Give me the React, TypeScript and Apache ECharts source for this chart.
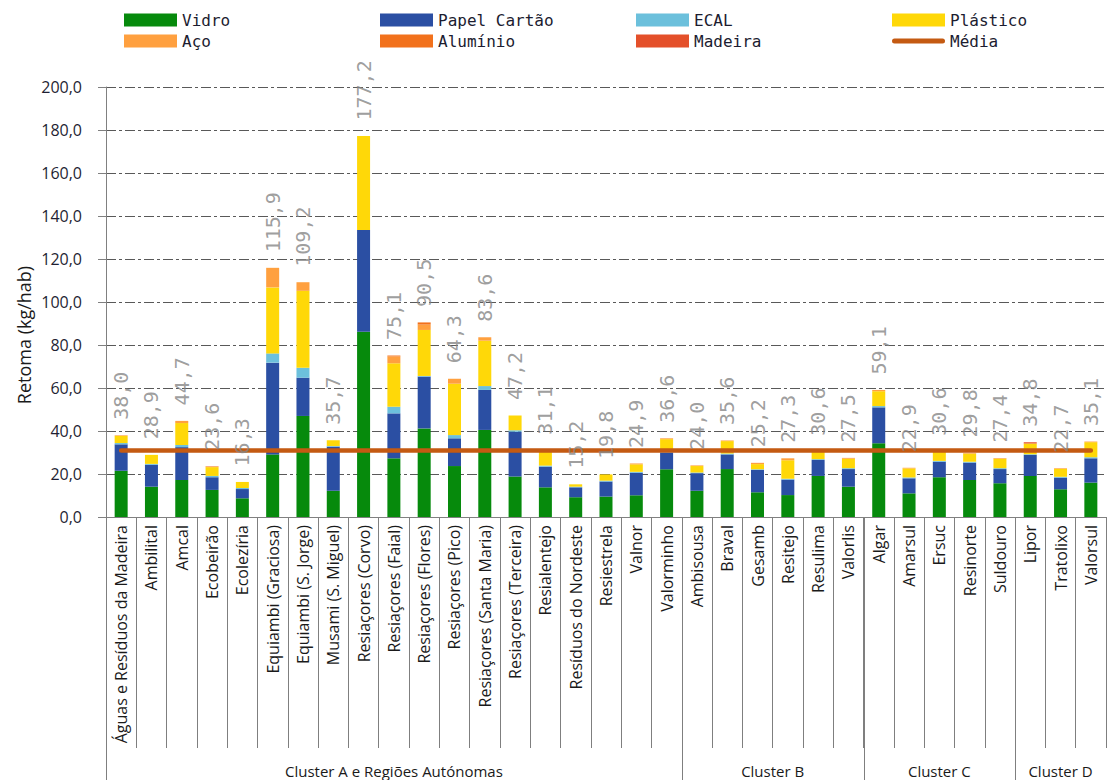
import React, { useEffect, useRef } from "react";
import * as echarts from "echarts";

const categories = [
  "Águas e Resíduos da Madeira", "Ambilital", "Amcal", "Ecobeirão", "Ecolezíria",
  "Equiambi (Graciosa)", "Equiambi (S. Jorge)", "Musami (S. Miguel)", "Resiaçores (Corvo)",
  "Resiaçores (Faial)", "Resiaçores (Flores)", "Resiaçores (Pico)", "Resiaçores (Santa Maria)",
  "Resiaçores (Terceira)", "Resialentejo", "Resíduos do Nordeste", "Resiestrela", "Valnor",
  "Valorminho", "Ambisousa", "Braval", "Gesamb", "Resitejo", "Resulima", "Valorlis",
  "Algar", "Amarsul", "Ersuc", "Resinorte", "Suldouro", "Lipor", "Tratolixo", "Valorsul",
];

const clusterNames = ["Cluster A e Regiões Autónomas", "Cluster B", "Cluster C", "Cluster D"];
const clusterSizes = [19, 6, 5, 3];

const vidro = [21.5, 14.1, 17.2, 12.6, 8.7, 29.1, 47.0, 12.2, 86.2, 27.3, 41.2, 23.7, 40.5, 18.8, 13.8, 9.2, 9.5, 10.1, 22.2, 12.2, 22.3, 11.5, 10.2, 19.1, 14.1, 34.3, 11.0, 18.5, 17.2, 15.7, 19.1, 12.9, 16.0];
const papelCartao = [12.3, 10.2, 15.3, 5.9, 4.3, 42.7, 17.8, 20.5, 47.3, 20.9, 24.1, 12.9, 18.6, 20.9, 9.6, 4.6, 7.0, 10.5, 7.8, 8.2, 6.8, 10.4, 7.2, 7.4, 8.2, 16.7, 7.0, 7.2, 8.1, 6.6, 9.7, 5.4, 11.3];
const ecal = [0.6, 0.4, 1.0, 0.6, 0.5, 4.3, 4.6, 0.3, 0, 3.1, 0.3, 1.5, 1.8, 0.7, 0.5, 0.3, 0.4, 0.4, 0.5, 0.3, 0.4, 0.3, 0.4, 0.4, 0.4, 0.6, 0.4, 0.4, 0.4, 0.4, 0.4, 0.4, 0.5];
const plastico = [3.3, 4.2, 10.2, 4.1, 2.8, 30.7, 35.8, 2.7, 43.7, 20.2, 21.4, 23.9, 21.1, 6.8, 7.2, 1.1, 2.9, 3.5, 5.7, 3.0, 5.8, 2.4, 8.6, 3.4, 4.4, 6.9, 4.2, 4.2, 3.8, 4.4, 5.0, 3.7, 7.0];
const aco = [0.3, 0, 1.0, 0.2, 0, 9.1, 4.0, 0, 0, 3.2, 2.5, 2.3, 1.6, 0, 0, 0, 0, 0.4, 0.4, 0.3, 0.3, 0.6, 0.9, 0.3, 0.4, 0.6, 0.3, 0.3, 0.3, 0.3, 0, 0.3, 0.3];
const aluminio = [0, 0, 0, 0.2, 0, 0, 0, 0, 0, 0.4, 1.0, 0, 0, 0, 0, 0, 0, 0, 0, 0, 0, 0, 0, 0, 0, 0, 0, 0, 0, 0, 0, 0, 0];
const madeira = [0, 0, 0, 0, 0, 0, 0, 0, 0, 0, 0, 0, 0, 0, 0, 0, 0, 0, 0, 0, 0, 0, 0, 0, 0, 0, 0, 0, 0, 0, 0.6, 0, 0];
const totals = [38.0, 28.9, 44.7, 23.6, 16.3, 115.9, 109.2, 35.7, 177.2, 75.1, 90.5, 64.3, 83.6, 47.2, 31.1, 15.2, 19.8, 24.9, 36.6, 24.0, 35.6, 25.2, 27.3, 30.6, 27.5, 59.1, 22.9, 30.6, 29.8, 27.4, 34.8, 22.7, 35.1];
const mediaValue = 30.9;

const yMin = 0;
const yMax = 200;
const yInterval = 20;

const fmt = (v: number) => v.toFixed(1).replace(".", ",");

const SANS = "'Open Sans', Lato, sans-serif";
const MONO = "'DejaVu Sans Mono', monospace";
const LINE_ICON = "path://M2.5,0 H50.5 A2.5,2.5 0 0 1 50.5,5 H2.5 A2.5,2.5 0 0 1 2.5,0 Z";

export default function App() {
  const ref = useRef<HTMLDivElement>(null);

  useEffect(() => {
    document.body.style.margin = "0";
    if (!ref.current) return;
    const chart = echarts.init(ref.current, null, { renderer: "svg" });

    const barSeries = (name: string, data: number[], color: string) => ({
      name,
      type: "bar",
      stack: "total",
      data,
      barWidth: 13,
      itemStyle: { color },
      emphasis: { disabled: true },
    });

    const legendText = { fontFamily: MONO, fontSize: 16, color: "#1c1c30", lineHeight: 16 };
    const legendBase = {
      orient: "vertical",
      top: 7,
      itemWidth: 53,
      itemHeight: 13,
      itemGap: 5,
      selectedMode: false,
      textStyle: legendText,
    };

    chart.setOption({
      animation: false,
      backgroundColor: "#ffffff",
      legend: [
        { ...legendBase, left: 119, data: [{ name: "Vidro", icon: "rect" }, { name: "Aço", icon: "rect" }] },
        { ...legendBase, left: 375, data: [{ name: "Papel Cartão", icon: "rect" }, { name: "Alumínio", icon: "rect" }] },
        { ...legendBase, left: 631, data: [{ name: "ECAL", icon: "rect" }, { name: "Madeira", icon: "rect" }] },
        { ...legendBase, left: 887, data: [{ name: "Plástico", icon: "rect" }, { name: "Média", icon: LINE_ICON }] },
      ],
      grid: { left: 106, right: 3, top: 87, bottom: 263, containLabel: false },
      xAxis: {
        type: "category",
        data: categories,
        boundaryGap: true,
        axisLine: { show: true, lineStyle: { color: "#808080", width: 1 } },
        axisTick: { show: true, interval: 0, length: 231, lineStyle: { color: "#7f7f7f", width: 1 } },
        axisLabel: {
          interval: 0,
          rotate: 90,
          margin: 8,
          fontFamily: SANS,
          fontSize: 16,
          color: "#1a1a1a",
        },
      },
      yAxis: {
        type: "value",
        min: yMin,
        max: yMax,
        interval: yInterval,
        axisLine: { show: true, lineStyle: { color: "#808080", width: 1 } },
        axisTick: { show: true, length: 8, lineStyle: { color: "#808080" } },
        axisLabel: {
          formatter: (v: number) => fmt(v),
          fontFamily: SANS,
          fontSize: 16,
          color: "#1f1f33",
          margin: 24,
        },
        splitLine: { show: true, lineStyle: { color: "#595959", width: 1, type: [10, 3, 3, 3] } },
      },
      series: [
        barSeries("Vidro", vidro, "#068a0c"),
        barSeries("Papel Cartão", papelCartao, "#2b4fa3"),
        barSeries("ECAL", ecal, "#6cc0dc"),
        barSeries("Plástico", plastico, "#ffd808"),
        barSeries("Aço", aco, "#ffa03f"),
        barSeries("Alumínio", aluminio, "#f2711c"),
        barSeries("Madeira", madeira, "#e4502a"),
        {
          name: "Média",
          type: "line",
          data: categories.map(() => mediaValue),
          symbol: "none",
          lineStyle: { color: "#c45a12", width: 4.5, cap: "round" },
          itemStyle: { color: "#c45a12" },
          z: 5,
          emphasis: { disabled: true },
        },
        {
          name: "Total",
          type: "scatter",
          data: totals,
          symbolSize: 1,
          itemStyle: { color: "rgba(0,0,0,0)" },
          silent: true,
          z: 6,
          label: {
            show: true,
            position: "top",
            distance: 15,
            rotate: 90,
            align: "left",
            verticalAlign: "middle",
            color: "#858585",
            fontFamily: MONO,
            fontSize: 20,
            formatter: (p: any) => fmt(p.value),
          },
        },
      ],
    });

    // cluster separators & labels, positioned from the category axis
    const px = (i: number) => chart.convertToPixel({ xAxisIndex: 0 }, categories[i]) as number;
    const bw = px(1) - px(0);
    const axisY = chart.convertToPixel({ yAxisIndex: 0 }, 0) as number;
    const graphics: any[] = [];
    let start = 0;
    clusterSizes.forEach((size, ci) => {
      const x0 = px(start) - bw / 2;
      const x1 = px(start + size - 1) + bw / 2;
      graphics.push({
        type: "line",
        shape: { x1: Math.round(x0) + 0.5, y1: axisY, x2: Math.round(x0) + 0.5, y2: 780 },
        style: { stroke: "#7f7f7f", lineWidth: 1 },
        silent: true,
      });
      graphics.push({
        type: "text",
        x: (x0 + x1) / 2,
        y: 771,
        style: {
          text: clusterNames[ci],
          fontFamily: SANS,
          fontSize: 15,
          fill: "#1a1a1a",
          align: "center",
          verticalAlign: "middle",
        },
        silent: true,
      });
      start += size;
    });
    graphics.push({
      type: "text",
      x: 24,
      y: 335,
      rotation: Math.PI / 2,
      style: {
        text: "Retoma (kg/hab)",
        fontFamily: SANS,
        fontSize: 18,
        fill: "#1a1a1a",
        align: "center",
        verticalAlign: "middle",
      },
      silent: true,
    });
    chart.setOption({ graphic: graphics });

    return () => chart.dispose();
  }, []);

  return <div ref={ref} style={{ width: 1109, height: 780, overflow: "hidden" }} />;
}
